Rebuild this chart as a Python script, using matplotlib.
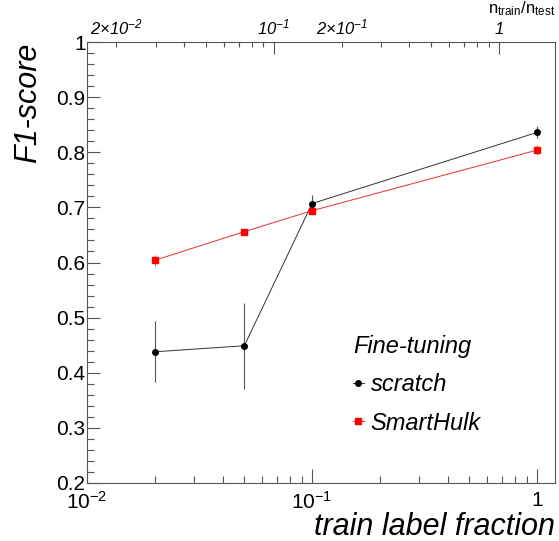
import numpy as np
import matplotlib
matplotlib.use("Agg")
import matplotlib.pyplot as plt
from matplotlib.ticker import FixedLocator, FuncFormatter, LogLocator, MultipleLocator

plt.rcParams['font.family'] = ['Liberation Sans', 'DejaVu Sans']
plt.rcParams['mathtext.fontset'] = 'custom'
plt.rcParams['mathtext.rm'] = 'Liberation Sans'
plt.rcParams['mathtext.it'] = 'Liberation Sans:italic'

# data
frac = [0.02, 0.05, 0.1, 1.0]
scratch = [0.438, 0.449, 0.707, 0.836]
scratch_err = [0.055, 0.078, 0.015, 0.011]
smart = [0.604, 0.656, 0.694, 0.804]
smart_err = [0.010, 0.004, 0.004, 0.009]
ratio = 1.48  # n_train/n_test per unit train fraction

fig = plt.figure(figsize=(5.59, 5.41), dpi=100)
ax = fig.add_axes([87/559, 58/541, 468/559, 441/541])

ax.errorbar(frac, scratch, yerr=scratch_err, color='#333333', ecolor='#555555',
            mfc='black', mec='black', elinewidth=0.8, lw=0.7, marker='o', ms=4,
            capsize=0, label='scratch')
ax.errorbar(frac, smart, yerr=smart_err, color='#e83030', ecolor='#f06060',
            mfc='red', mec='red', elinewidth=0.8, lw=0.7, marker='s', ms=4,
            capsize=0, label='SmartHulk')

ax.set_xscale('log')
ax.set_xlim(0.01, 1.2)
ax.set_ylim(0.2, 1.0)

for s in ax.spines.values():
    s.set_color('#555555')
    s.set_linewidth(0.8)

ax.yaxis.set_major_locator(MultipleLocator(0.1))
ax.yaxis.set_minor_locator(MultipleLocator(0.02))
ax.yaxis.set_major_formatter(FuncFormatter(lambda v, p: ('%.1f' % v) if v < 0.999 else '1'))
ax.xaxis.set_major_locator(LogLocator(base=10))
ax.xaxis.set_minor_locator(LogLocator(base=10, subs=np.arange(2, 10)))

def bottom_fmt(v, p):
    e = int(round(np.log10(v)))
    return '1' if e == 0 else r'$\mathdefault{10^{%d}}$' % e
ax.xaxis.set_major_formatter(FuncFormatter(bottom_fmt))

ax.tick_params(which='both', direction='in', top=False, right=False, color='#555555', width=0.8)
ax.tick_params(axis='x', which='major', length=10, labelsize=15, pad=6)
ax.tick_params(axis='x', which='minor', length=5)
ax.tick_params(axis='y', which='major', length=9.5, labelsize=15, pad=1)
ax.tick_params(axis='y', which='minor', length=5)

# top axis: n_train / n_test
sec = ax.secondary_xaxis('top', functions=(lambda x: x * ratio, lambda x: x / ratio))
sec.spines['top'].set_visible(False)
sec.xaxis.set_major_locator(FixedLocator([0.1, 1.0]))
sec.xaxis.set_minor_locator(LogLocator(base=10, subs=np.arange(2, 10)))

def top_major(v, p):
    return '1' if v > 0.5 else r'$\mathdefault{10^{-1}}$'

def top_minor(v, p):
    for t, s in [(0.02, r'$\mathdefault{2{\times}10^{-2}}$'), (0.2, r'$\mathdefault{2{\times}10^{-1}}$')]:
        if abs(np.log10(v / t)) < 1e-6:
            return s
    return ''

sec.xaxis.set_major_formatter(FuncFormatter(top_major))
sec.xaxis.set_minor_formatter(FuncFormatter(top_minor))
sec.tick_params(which='both', direction='in', color='#555555', width=0.8, labelsize=12, pad=3.5)
sec.tick_params(which='major', length=8.6)
sec.tick_params(which='minor', length=3.8)

fig.text(555/559, (541-13)/541, r'$\mathdefault{n_{train}/n_{test}}$', ha='right', va='baseline', fontsize=12)

fig.text(555/559, 6/541, 'train label fraction', ha='right', va='baseline',
         fontsize=22, style='italic')
fig.text(43/559, (541-43)/541, 'F1-score', ha='right', va='top', rotation=90,
         fontsize=22, style='italic')

handles, labels = ax.get_legend_handles_labels()
handles = [h[0] for h in handles]
leg = ax.legend(handles, labels, title='Fine-tuning', loc='upper left',
                bbox_to_anchor=((353-87)/468, (483-335)/441), frameon=False,
                prop={'size': 17, 'style': 'italic'}, title_fontproperties={'size': 17, 'style': 'italic'},
                handlelength=0.45, handletextpad=0.3, borderpad=0, labelspacing=0.65,
                alignment='left', borderaxespad=0)

fig.canvas.draw()
for lab in sec.xaxis.get_ticklabels(which='both'):
    lab.set_fontstyle('italic')

fig.savefig('out.png', dpi=100)
